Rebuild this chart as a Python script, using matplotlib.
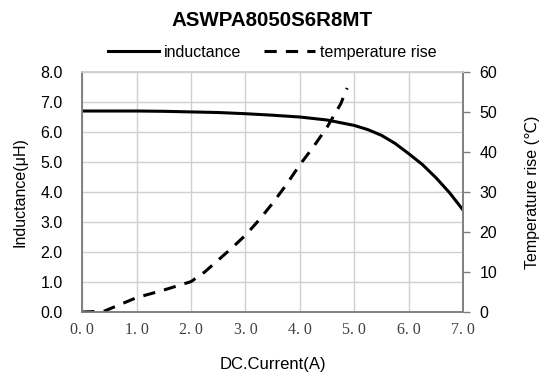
import matplotlib
matplotlib.use("Agg")
import matplotlib.pyplot as plt

plt.rcParams['font.family'] = ['Liberation Sans', 'DejaVu Sans', 'Noto Sans CJK SC']

# inductance vs current
cur_L = [0.0, 0.5, 1.0, 1.5, 2.0, 2.5, 3.0, 3.5, 4.0, 4.5, 5.0, 5.25, 5.5, 5.75,
         6.0, 6.25, 6.5, 6.75, 7.0]
induct = [6.70, 6.70, 6.70, 6.69, 6.67, 6.65, 6.61, 6.56, 6.50, 6.40, 6.22, 6.08,
          5.89, 5.62, 5.28, 4.92, 4.48, 3.98, 3.40]

# temperature rise vs current
cur_T = [0.0, 0.4, 1.0, 1.5, 2.0, 2.25, 2.5, 2.75, 3.0, 3.25, 3.5, 3.75, 4.0,
         4.25, 4.5, 4.75, 4.87]
temp = [0.0, 0.2, 3.6, 5.5, 7.6, 10.0, 13.0, 16.0, 19.2, 23.0, 27.2, 31.8, 36.8,
        41.3, 46.2, 52.0, 56.0]

xticks = [0, 1, 2, 3, 4, 5, 6, 7]
xlabels = ['0. 0', '1. 0', '2. 0', '3. 0', '4. 0', '5. 0', '6. 0', '7. 0']

fig = plt.figure(figsize=(5.48, 3.81), dpi=100)
ax1 = fig.add_axes([0.150, 0.181, 0.695, 0.630])
ax2 = ax1.twinx()

l1, = ax1.plot(cur_L, induct, color='black', lw=2.2, label='inductance')
l2, = ax2.plot(cur_T, temp, color='black', lw=2.2, dashes=(4, 3), label='temperature rise')

ax1.set_xlim(0, 7)
ax1.set_ylim(0, 8)
ax2.set_ylim(0, 60)
ax1.set_xticks(xticks)
ax1.set_xticklabels(xlabels, family='Liberation Serif', fontsize=11.5, color='#404040')
ax1.set_yticks(range(0, 9))
ax1.set_yticklabels(['%.1f' % v for v in range(0, 9)], fontsize=11.5)
ax2.set_yticks(range(0, 61, 10))
ax2.tick_params(axis='y', labelsize=11.5, length=5, color='#808080', width=1, pad=7)
ax1.tick_params(axis='x', length=0, pad=7)
ax1.tick_params(axis='y', length=0, pad=14)

ax1.grid(True, color='#d0d0d0', lw=1)
for ax in (ax1, ax2):
    for s in ax.spines.values():
        s.set_color('#808080')
        s.set_linewidth(1.2)
    ax.spines['top'].set_color('#d0d0d0')

ax1.set_xlabel('DC.Current(A)', fontsize=12, labelpad=14)
ax1.set_ylabel('Inductance(μH)', fontsize=11.5, labelpad=9)
ax2.set_ylabel('Temperature rise (℃)', fontsize=11.5, labelpad=20)

fig.suptitle('ASWPA8050S6R8MT', fontsize=14.8, fontweight='bold', x=0.497, y=0.972)
fig.legend(handles=[l1, l2], loc='center', bbox_to_anchor=(0.497, 0.862), ncol=2,
           frameon=False, fontsize=11.5, handlelength=3.2, columnspacing=1.4,
           handletextpad=0.3)

fig.savefig('out.png', dpi=100)
